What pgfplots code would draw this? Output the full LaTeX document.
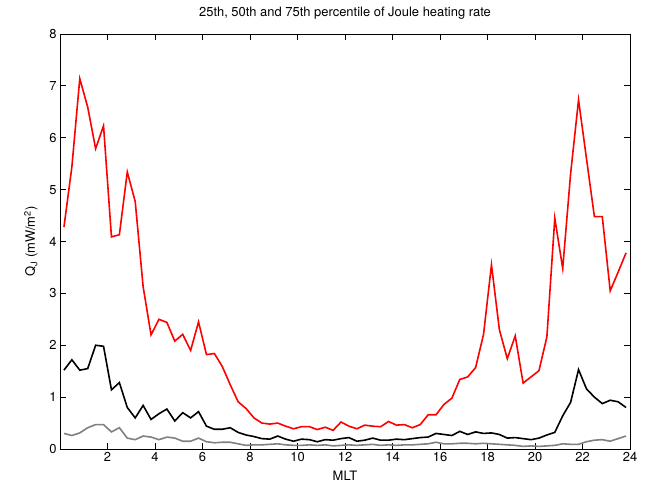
\documentclass[border=0pt]{standalone}
\usepackage{fontspec}
\setmainfont{TeX Gyre Heros}
\usepackage{pgfplots}
\usepackage{pgfplotstable}
\pgfplotsset{compat=1.18}

% columns: MLT, 75th, 50th, 25th percentile (mW/m^2)
\pgfplotstableread{
x      p75   p50   p25
0.167  4.28  1.52  0.30
0.500  5.44  1.72  0.26
0.833  7.14  1.52  0.31
1.167  6.59  1.55  0.41
1.500  5.79  2.00  0.47
1.833  6.23  1.98  0.47
2.167  4.09  1.14  0.33
2.500  4.13  1.28  0.41
2.833  5.34  0.80  0.21
3.167  4.77  0.60  0.18
3.500  3.13  0.84  0.25
3.833  2.20  0.57  0.23
4.167  2.50  0.68  0.18
4.500  2.44  0.77  0.23
4.833  2.08  0.54  0.21
5.167  2.21  0.70  0.15
5.500  1.90  0.60  0.15
5.833  2.45  0.72  0.21
6.167  1.82  0.44  0.14
6.500  1.84  0.38  0.12
6.833  1.59  0.38  0.13
7.167  1.24  0.41  0.13
7.500  0.91  0.32  0.10
7.833  0.78  0.27  0.07
8.167  0.60  0.24  0.08
8.500  0.50  0.20  0.08
8.833  0.48  0.19  0.09
9.167  0.50  0.25  0.10
9.500  0.44  0.19  0.08
9.833  0.39  0.15  0.07
10.167 0.43  0.19  0.07
10.500 0.43  0.18  0.08
10.833 0.375 0.14  0.07
11.167 0.42  0.18  0.08
11.500 0.36  0.17  0.06
11.833 0.52  0.20  0.07
12.167 0.44  0.22  0.08
12.500 0.39  0.15  0.07
12.833 0.46  0.17  0.08
13.167 0.44  0.21  0.09
13.500 0.43  0.17  0.07
13.833 0.53  0.17  0.08
14.167 0.46  0.19  0.07
14.500 0.47  0.18  0.08
14.833 0.41  0.20  0.08
15.167 0.47  0.22  0.09
15.500 0.66  0.23  0.10
15.833 0.66  0.30  0.13
16.167 0.86  0.28  0.10
16.500 0.98  0.26  0.10
16.833 1.34  0.34  0.11
17.167 1.39  0.28  0.11
17.500 1.57  0.33  0.10
17.833 2.21  0.30  0.11
18.167 3.55  0.31  0.10
18.500 2.30  0.28  0.09
18.833 1.74  0.21  0.08
19.167 2.18  0.22  0.07
19.500 1.27  0.20  0.05
19.833 1.39  0.18  0.06
20.167 1.51  0.21  0.05
20.500 2.16  0.27  0.06
20.833 4.45  0.32  0.07
21.167 3.48  0.64  0.10
21.500 5.31  0.90  0.09
21.833 6.73  1.53  0.09
22.167 5.60  1.16  0.14
22.500 4.48  1.00  0.17
22.833 4.48  0.875 0.18
23.167 3.05  0.94  0.15
23.500 3.41  0.91  0.20
23.833 3.78  0.80  0.25
}\jouletab

\begin{document}
\begin{tikzpicture}
\begin{axis}[
  width=570bp, height=415bp, scale only axis,
  xmin=0, xmax=24, ymin=0, ymax=8,
  xtick={2,4,...,24}, ytick={0,1,...,8},
  tick align=inside, major tick length=6bp,
  axis line style={line width=0.8bp},
  every tick/.style={black, line width=0.8bp},
  font=\fontsize{13}{15}\selectfont,
  /pgf/number format/assume math mode=true,
  title={25th, 50th and 75th percentile of Joule heating rate},
  title style={at={(axis description cs:0.5,1)}, anchor=base, yshift=11.5bp},
  xlabel={MLT},
  xlabel style={at={(axis description cs:0.5,0)}, anchor=base, yshift=-31bp},
  ylabel={Q\textsubscript{J} (mW/m\textsuperscript{2})},
  ylabel style={at={(axis description cs:-0.044,0.5)}, anchor=base},
]
\addplot[line width=1.6bp, color={rgb,1:red,0.5;green,0.5;blue,0.5}] table[x=x, y=p25] {\jouletab};
\addplot[line width=1.6bp, black] table[x=x, y=p50] {\jouletab};
\addplot[line width=1.6bp, red] table[x=x, y=p75] {\jouletab};
\end{axis}
\path (current axis.south west) ++(-60bp,-38bp) rectangle ++(649bp,487bp);
\end{tikzpicture}
\end{document}
